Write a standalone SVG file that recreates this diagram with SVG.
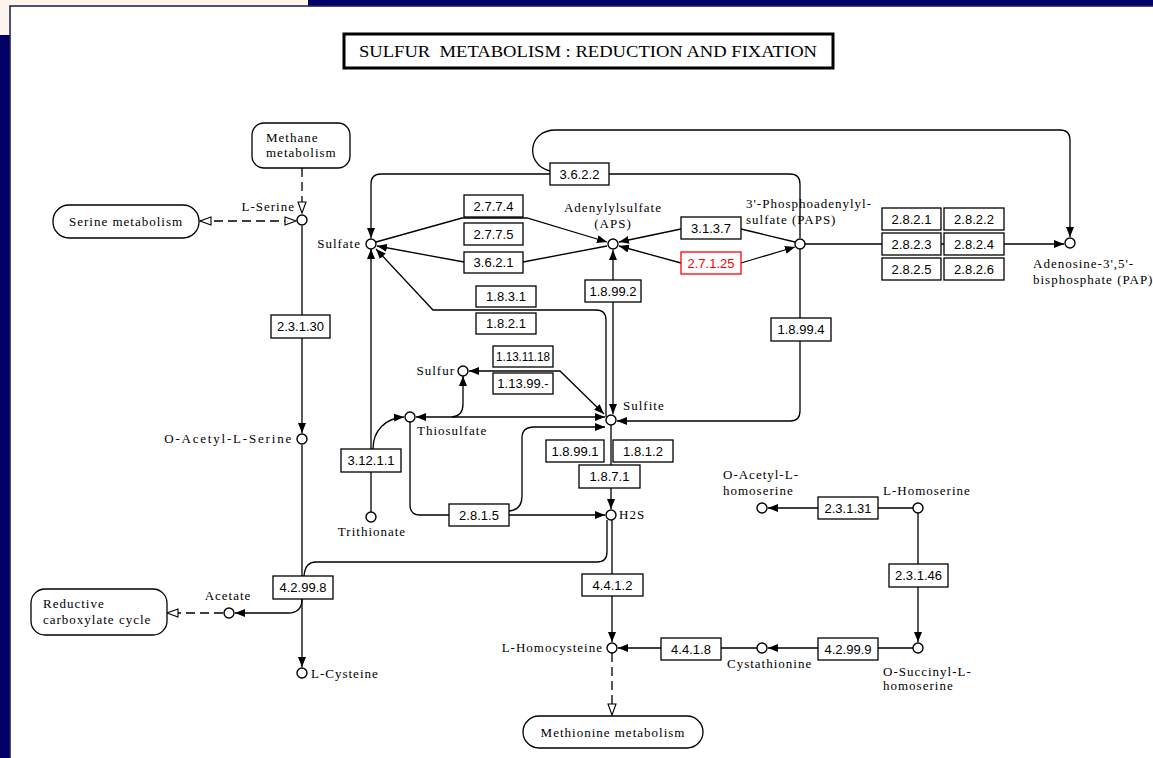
<svg xmlns="http://www.w3.org/2000/svg" width="1153" height="758" viewBox="0 0 1153 758">
<style>
.c{fill:#fff;stroke:#000;stroke-width:1.4}
.e rect{fill:#fff;stroke:#000;stroke-width:1.3}
.e text{font-family:"Liberation Sans",Arial,sans-serif;font-size:13px;text-anchor:middle;fill:#000}
.e.red rect{stroke:#f00}
.e.red text{fill:#f00}
.t{font-family:"Liberation Serif","Times New Roman",serif;font-size:13px;letter-spacing:1px;fill:#000}
.m rect{fill:#fff;stroke:#000;stroke-width:1.3}
.ln{fill:none;stroke:#000;stroke-width:1.3}
.dash{stroke-dasharray:9,5}
</style>
<defs>
<marker id="a" viewBox="0 0 10 8" refX="10" refY="4" markerWidth="10" markerHeight="8" markerUnits="userSpaceOnUse" orient="auto-start-reverse"><path d="M0,0 L10,4 L0,8 z" fill="#000"/></marker>
<marker id="o" viewBox="0 0 13 10" refX="12" refY="5" markerWidth="13" markerHeight="10" markerUnits="userSpaceOnUse" orient="auto-start-reverse"><path d="M1,1 L12,5 L1,9 z" fill="#fff" stroke="#000" stroke-width="1.1"/></marker>
</defs>
<!-- frame -->
<rect x="0" y="0" width="1153" height="758" fill="#000066"/>
<rect x="0" y="0" width="308" height="35" fill="#fdf5ee"/>
<rect x="10" y="6" width="1143" height="752" fill="#fff"/>
<path d="M10,758 V6 H1153" fill="none" stroke="#1a1a4a" stroke-width="1.5"/>
<!-- title -->
<g id="title">
<rect x="344" y="34" width="489" height="34" fill="#fff" stroke="#000" stroke-width="3"/>
<text x="359" y="57" font-family="Liberation Serif,Times New Roman,serif" font-size="16" textLength="458" lengthAdjust="spacingAndGlyphs">SULFUR&#160; METABOLISM : REDUCTION AND FIXATION</text>
</g>
<!-- connectors -->
<g id="connectors" class="ln">
<path class="dash" d="M302,168 V213" marker-end="url(#o)"/>
<path class="dash" d="M200,221 H296" marker-start="url(#o)" marker-end="url(#o)"/>
<path d="M302,226 V315 M302,338 V433" marker-end="url(#a)"/>
<path d="M302,445 V576 M302,599 V667" marker-end="url(#a)"/>
<path d="M302,599 Q302,613 288,613 H235" marker-end="url(#a)"/>
<path class="dash" d="M223,613 H167" marker-end="url(#o)"/>
<path d="M607,520 V552 Q607,562 597,562 H316 Q305,562 304,576"/>
<path d="M376,242 L462,218 H527 L607,242" marker-end="url(#a)"/>
<path d="M607,246 L523,262 M464,262 L377,246" marker-end="url(#a)"/>
<path d="M795,242 L741,229 M681,229 L619,242" marker-end="url(#a)"/>
<path d="M619,246 L681,263" marker-start="url(#a)"/>
<path d="M741,263 L795,247" marker-end="url(#a)"/>
<path d="M550,174 H381 Q371,174 371,184 V238" marker-end="url(#a)"/>
<path d="M609,174 H790 Q800,174 800,184 V238"/>
<path d="M550,171 C526,166 526,130 556,130 H1060 Q1070,130 1070,140 V237" marker-end="url(#a)"/>
<path d="M805,244 H882 M941,244 H944 M1004,244 H1064" marker-end="url(#a)"/>
<path d="M613,250 V280" marker-start="url(#a)"/>
<path d="M613,302 V414" marker-end="url(#a)"/>
<path d="M606,417 V320 Q606,310 596,310 H433 L376,249" marker-end="url(#a)"/>
<path d="M469,371 H560 L604,414" marker-start="url(#a)" marker-end="url(#a)"/>
<path d="M416,417 H605" marker-start="url(#a)" marker-end="url(#a)"/>
<path d="M452,417 Q463,416 463,404 V376" marker-end="url(#a)"/>
<path d="M800,249 V318 M800,341 V411 Q800,421 790,421 H617" marker-end="url(#a)"/>
<path d="M371,512 V472 M371,449 V249" marker-end="url(#a)"/>
<path d="M373,449 C373,430 386,418 404,417" marker-end="url(#a)"/>
<path d="M410,422 V505 Q410,515 420,515 H449 M509,515 H605" marker-end="url(#a)"/>
<path d="M509,511 Q522,510 522,496 V438 Q522,427 534,427 H605" marker-end="url(#a)"/>
<path d="M611,425 V465 M611,488 V509" marker-end="url(#a)"/>
<path d="M612,520 V574 M612,596 V642" marker-end="url(#a)"/>
<path class="dash" d="M612,653 V715" marker-end="url(#o)"/>
<path d="M757,648 H721 M661,648 H618" marker-end="url(#a)"/>
<path d="M913,648 H878 M818,648 H768" marker-end="url(#a)"/>
<path d="M918,513 V564 M918,587 V642" marker-end="url(#a)"/>
<path d="M913,508 H878 M818,508 H768" marker-end="url(#a)"/>
</g>
<!-- map nodes -->
<g id="map-methane" class="m"><rect x="252" y="123" width="98" height="45" rx="12"/><text class="t" x="266" y="142">Methane</text><text class="t" x="266" y="157">metabolism</text></g>
<g id="map-serine" class="m"><rect x="53" y="205" width="146" height="33" rx="16"/><text class="t" x="69" y="226">Serine metabolism</text></g>
<g id="map-reductive" class="m"><rect x="31" y="589" width="136" height="46" rx="14"/><text class="t" x="43" y="608">Reductive</text><text class="t" x="43" y="624">carboxylate cycle</text></g>
<g id="map-methionine" class="m"><rect x="523" y="716" width="180" height="32" rx="16"/><text class="t" x="613" y="737" text-anchor="middle">Methionine metabolism</text></g>
<!-- compounds -->
<g id="c-lserine"><circle class="c" cx="302" cy="220" r="5"/><text class="t" x="295" y="211" text-anchor="end">L-Serine</text></g>
<g id="c-oas"><circle class="c" cx="302" cy="439" r="5"/><text class="t" x="293" y="443" text-anchor="end" style="letter-spacing:1.8px">O-Acetyl-L-Serine</text></g>
<g id="c-lcys"><circle class="c" cx="302" cy="673" r="5"/><text class="t" x="311" y="678">L-Cysteine</text></g>
<g id="c-acetate"><circle class="c" cx="229" cy="613" r="5"/><text class="t" x="228" y="600" text-anchor="middle">Acetate</text></g>
<g id="c-sulfate"><circle class="c" cx="371" cy="244" r="5"/><text class="t" x="361" y="248" text-anchor="end">Sulfate</text></g>
<g id="c-aps"><circle class="c" cx="613" cy="244" r="5"/><text class="t" x="613" y="212" text-anchor="middle">Adenylylsulfate</text><text class="t" x="613" y="228" text-anchor="middle">(APS)</text></g>
<g id="c-paps"><circle class="c" cx="800" cy="244" r="5"/><text class="t" x="746" y="208">3'-Phosphoadenylyl-</text><text class="t" x="746" y="224">sulfate (PAPS)</text></g>
<g id="c-pap"><circle class="c" cx="1070" cy="243" r="5"/><text class="t" x="1033" y="268">Adenosine-3',5'-</text><text class="t" x="1033" y="284">bisphosphate (PAP)</text></g>
<g id="c-sulfur"><circle class="c" cx="463" cy="371" r="5"/><text class="t" x="455" y="375" text-anchor="end">Sulfur</text></g>
<g id="c-sulfite"><circle class="c" cx="611" cy="420" r="5"/><text class="t" x="623" y="410">Sulfite</text></g>
<g id="c-thiosulfate"><circle class="c" cx="410" cy="417" r="5"/><text class="t" x="417" y="435">Thiosulfate</text></g>
<g id="c-trithionate"><circle class="c" cx="371" cy="517" r="5"/><text class="t" x="372" y="536" text-anchor="middle">Trithionate</text></g>
<g id="c-h2s"><circle class="c" cx="611" cy="515" r="5"/><text class="t" x="619" y="519">H2S</text></g>
<g id="c-lhcys"><circle class="c" cx="612" cy="648" r="5"/><text class="t" x="603" y="652" text-anchor="end">L-Homocysteine</text></g>
<g id="c-cysta"><circle class="c" cx="762" cy="648" r="5"/><text class="t" x="727" y="668">Cystathionine</text></g>
<g id="c-osuc"><circle class="c" cx="918" cy="648" r="5"/><text class="t" x="883" y="676">O-Succinyl-L-</text><text class="t" x="883" y="690">homoserine</text></g>
<g id="c-lhser"><circle class="c" cx="918" cy="508" r="5"/><text class="t" x="883" y="495">L-Homoserine</text></g>
<g id="c-oah"><circle class="c" cx="762" cy="508" r="5"/><text class="t" x="723" y="479">O-Acetyl-L-</text><text class="t" x="723" y="495">homoserine</text></g>
<!-- enzymes -->
<g id="e-2.3.1.30" class="e"><rect x="271" y="315" width="59" height="23"/><text x="300.5" y="331">2.3.1.30</text></g>
<g id="e-4.2.99.8" class="e"><rect x="273" y="576" width="60" height="23"/><text x="303" y="592">4.2.99.8</text></g>
<g id="e-3.6.2.2" class="e"><rect x="550" y="163" width="59" height="22"/><text x="579.5" y="179">3.6.2.2</text></g>
<g id="e-2.7.7.4" class="e"><rect x="464" y="195" width="59" height="22"/><text x="493.5" y="211">2.7.7.4</text></g>
<g id="e-2.7.7.5" class="e"><rect x="464" y="223" width="59" height="22"/><text x="493.5" y="239">2.7.7.5</text></g>
<g id="e-3.6.2.1" class="e"><rect x="464" y="252" width="59" height="21"/><text x="493.5" y="267">3.6.2.1</text></g>
<g id="e-3.1.3.7" class="e"><rect x="681" y="217" width="60" height="22"/><text x="711" y="233">3.1.3.7</text></g>
<g id="e-2.7.1.25" class="e red"><rect x="681" y="252" width="60" height="22"/><text x="711" y="268">2.7.1.25</text></g>
<g id="e-2.8.2.1" class="e"><rect x="882" y="208" width="59" height="22"/><text x="911.5" y="224">2.8.2.1</text></g>
<g id="e-2.8.2.2" class="e"><rect x="944" y="208" width="60" height="22"/><text x="974" y="224">2.8.2.2</text></g>
<g id="e-2.8.2.3" class="e"><rect x="882" y="233" width="59" height="22"/><text x="911.5" y="249">2.8.2.3</text></g>
<g id="e-2.8.2.4" class="e"><rect x="944" y="233" width="60" height="22"/><text x="974" y="249">2.8.2.4</text></g>
<g id="e-2.8.2.5" class="e"><rect x="882" y="258" width="59" height="22"/><text x="911.5" y="274">2.8.2.5</text></g>
<g id="e-2.8.2.6" class="e"><rect x="944" y="258" width="60" height="22"/><text x="974" y="274">2.8.2.6</text></g>
<g id="e-1.8.99.2" class="e"><rect x="585" y="280" width="56" height="22"/><text x="613" y="296">1.8.99.2</text></g>
<g id="e-1.8.3.1" class="e"><rect x="476" y="286" width="60" height="21"/><text x="506" y="301">1.8.3.1</text></g>
<g id="e-1.8.2.1" class="e"><rect x="476" y="313" width="60" height="21"/><text x="506" y="328">1.8.2.1</text></g>
<g id="e-1.8.99.4" class="e"><rect x="771" y="318" width="60" height="23"/><text x="801" y="334">1.8.99.4</text></g>
<g id="e-1.13.11.18" class="e"><rect x="493" y="346" width="60" height="21"/><text x="523" y="361" textLength="54" lengthAdjust="spacingAndGlyphs">1.13.11.18</text></g>
<g id="e-1.13.99.-" class="e"><rect x="493" y="373" width="60" height="21"/><text x="523" y="388">1.13.99.-</text></g>
<g id="e-3.12.1.1" class="e"><rect x="341" y="449" width="60" height="23"/><text x="371" y="465">3.12.1.1</text></g>
<g id="e-1.8.99.1" class="e"><rect x="546" y="440" width="58" height="22"/><text x="575" y="456">1.8.99.1</text></g>
<g id="e-1.8.1.2" class="e"><rect x="613" y="440" width="60" height="22"/><text x="643" y="456">1.8.1.2</text></g>
<g id="e-1.8.7.1" class="e"><rect x="579" y="465" width="61" height="23"/><text x="609.5" y="481">1.8.7.1</text></g>
<g id="e-2.8.1.5" class="e"><rect x="449" y="504" width="60" height="22"/><text x="479" y="520">2.8.1.5</text></g>
<g id="e-4.4.1.2" class="e"><rect x="582" y="574" width="61" height="22"/><text x="612.5" y="590">4.4.1.2</text></g>
<g id="e-4.4.1.8" class="e"><rect x="661" y="638" width="60" height="22"/><text x="691" y="654">4.4.1.8</text></g>
<g id="e-4.2.99.9" class="e"><rect x="818" y="638" width="60" height="22"/><text x="848" y="654">4.2.99.9</text></g>
<g id="e-2.3.1.31" class="e"><rect x="818" y="497" width="60" height="22"/><text x="848" y="513">2.3.1.31</text></g>
<g id="e-2.3.1.46" class="e"><rect x="889" y="564" width="59" height="23"/><text x="918.5" y="580">2.3.1.46</text></g>
</svg>
